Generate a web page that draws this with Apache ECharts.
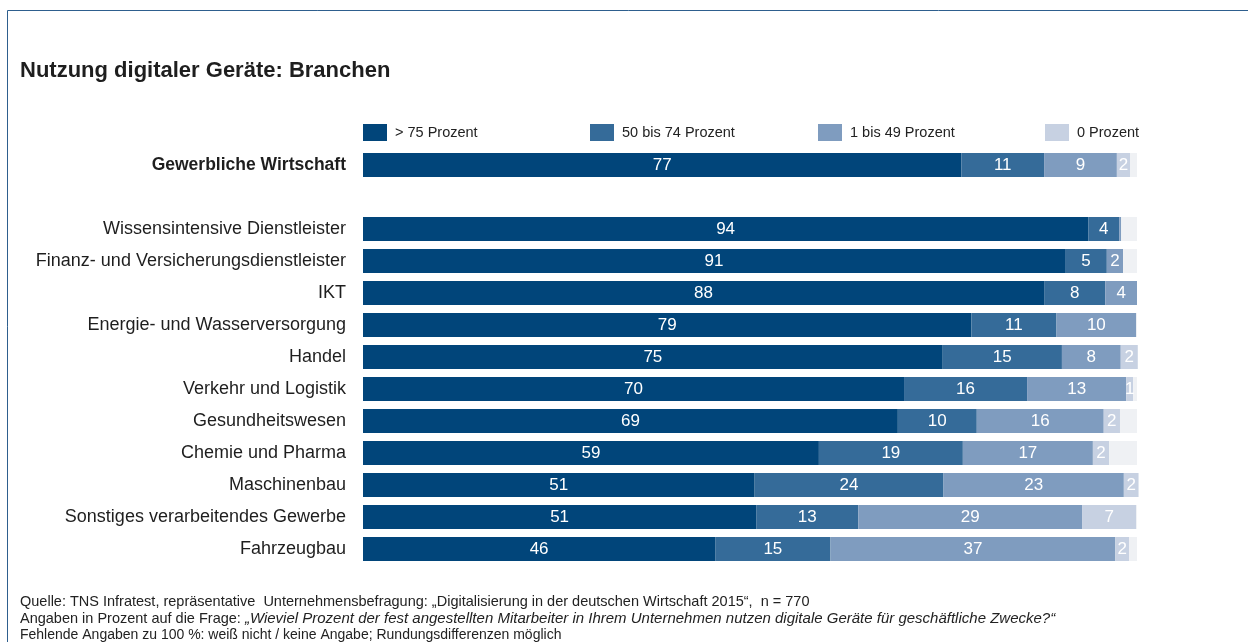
<!DOCTYPE html>
<html>
<head>
<meta charset="utf-8">
<script src="https://cdn.jsdelivr.net/npm/echarts@6/dist/echarts.min.js"></script>
<style>html,body{margin:0;padding:0;background:#fff;}#c{width:1248px;height:642px;}</style>
</head>
<body>
<div id="c"></div>
<script>
const categories = ["Gewerbliche Wirtschaft", "", "Wissensintensive Dienstleister", "Finanz- und Versicherungsdienstleister", "IKT", "Energie- und Wasserversorgung", "Handel", "Verkehr und Logistik", "Gesundheitswesen", "Chemie und Pharma", "Maschinenbau", "Sonstiges verarbeitendes Gewerbe", "Fahrzeugbau"];
const seriesNames = ["> 75 Prozent", "50 bis 74 Prozent", "1 bis 49 Prozent", "0 Prozent"];
const over75   = [77.3, '-', 93.7, 90.7, 88.0, 78.6, 74.9, 69.9, 69.1, 58.9, 50.6, 50.8, 45.5];
const from50   = [10.7, '-', 4.0, 5.4, 7.9, 11.0, 15.4, 15.9, 10.2, 18.6, 24.4, 13.2, 14.9];
const from1    = [9.4, '-', 0.26, 2.1, 4.1, 10.3, 7.6, 12.8, 16.4, 16.8, 23.3, 28.9, 36.8];
const zero     = [1.7, '-', 0, 0, 0, 0, 2.2, 0.9, 2.1, 2.1, 1.9, 7.0, 1.8];
const colors = ["#01457a", "#356b99", "#7f9cbf", "#c7d1e2"];
const restColor = "#eff1f4";

const lists = [over75, from50, from1, zero];
const rest = categories.map((c, i) => {
  if (over75[i] === '-') return '-';
  const s = lists.reduce((a, l) => a + l[i], 0);
  return Math.max(0, +(100 - s).toFixed(2));
});

const FONT = "Liberation Sans";
const chart = echarts.init(document.getElementById('c'), null, {renderer: 'canvas'});

const series = lists.map((d, k) => ({
  name: seriesNames[k],
  type: 'bar',
  stack: 'a',
  data: d,
  barWidth: 24,
  clip: false,
  itemStyle: {color: colors[k]},
  label: {
    show: true, position: 'inside', color: '#ffffff',
    fontFamily: FONT, fontSize: 17,
    formatter: p => (typeof p.value === 'number' && p.value >= 0.5) ? String(Math.round(p.value)) : ''
  },
  emphasis: {disabled: true}
}));
series.push({
  name: 'rest', type: 'bar', stack: 'a', data: rest, barWidth: 24, clip: false,
  itemStyle: {color: restColor}, label: {show: false}, emphasis: {disabled: true}
});

const legendX = [363, 590, 818, 1045];
const legends = seriesNames.map((n, k) => ({
  left: legendX[k] - 5, top: 119, itemWidth: 24, itemHeight: 17, itemGap: 0,
  icon: 'rect', data: [n], selectedMode: false,
  textStyle: {fontFamily: FONT, fontSize: 14.5, color: '#222', padding: [0, 0, 0, 3]}
}));

chart.setOption({
  animation: false,
  backgroundColor: '#ffffff',
  title: {
    text: 'Nutzung digitaler Geräte: Branchen', left: 15, top: 55,
    textStyle: {fontFamily: FONT, fontSize: 22, fontWeight: 'bold', color: '#1e1e1e'}
  },
  legend: legends,
  grid: {left: 363, right: 111, top: 149, height: 416, containLabel: false},
  xAxis: {type: 'value', min: 0, max: 100, show: false},
  yAxis: {
    type: 'category', data: categories, inverse: true,
    axisLine: {show: false}, axisTick: {show: false}, splitLine: {show: false},
    axisLabel: {
      margin: 17, fontFamily: FONT, fontSize: 18, color: '#1e1e1e',
      formatter: (v, i) => i === 0 ? '{b|' + v + '}' : v,
      rich: {b: {fontFamily: FONT, fontSize: 17.5, fontWeight: 'bold', color: '#1e1e1e'}}
    }
  },
  series: series,
  graphic: [
    {type: 'rect', shape: {x: 7.5, y: 10.5, width: 1400, height: 800}, style: {fill: null, stroke: '#2e5f8e', lineWidth: 1}, silent: true},
    {type: 'text', left: 20, top: 594, style: {text: 'Quelle: TNS Infratest, repräsentative  Unternehmensbefragung: „Digitalisierung in der deutschen Wirtschaft 2015“,  n = 770', font: '14.5px "Liberation Sans"', fill: '#222'}},
    {type: 'text', left: 20, top: 611, style: {
      text: '{n|Angaben in Prozent auf die Frage: }{i|„Wieviel Prozent der fest angestellten Mitarbeiter in Ihrem Unternehmen nutzen digitale Geräte für geschäftliche Zwecke?“}',
      rich: {n: {font: '14.5px "Liberation Sans"', fill: '#222'}, i: {font: 'italic 15px "Liberation Sans"', fill: '#222'}}
    }},
    {type: 'text', left: 20, top: 628, style: {text: 'Fehlende Angaben zu 100 %: weiß nicht / keine Angabe; Rundungsdifferenzen möglich', font: '14px "Liberation Sans"', fill: '#222'}}
  ]
});
</script>
</body>
</html>
